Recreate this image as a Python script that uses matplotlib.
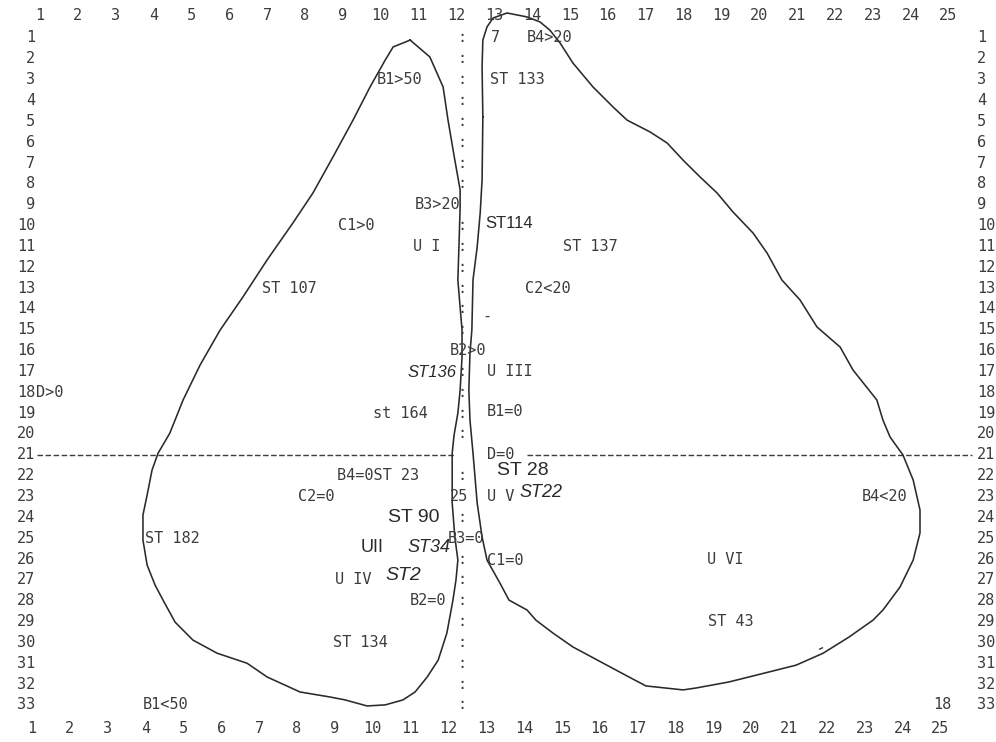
import matplotlib
matplotlib.use("Agg")
import matplotlib.pyplot as plt
import numpy as np

# grid: columns 1..25, rows 1..33 (row 1 at the top)
COLS = list(range(1, 26))
ROWS = list(range(1, 34))

# left lobe outline (column, row), traced clockwise from the top
LEFT_X = [10.78, 11.30, 11.65, 11.78, 11.96, 12.10, 12.10, 12.07, 12.04, 12.15,
          12.15, 12.10, 12.04, 11.94, 11.89, 11.89, 11.89, 11.96, 12.04, 11.99,
          11.91, 11.75, 11.52, 11.23, 10.91, 10.59, 10.12, 9.64, 9.06, 8.66,
          7.87, 7.00, 6.47, 5.68, 5.04, 4.57, 4.25, 4.04, 3.83, 3.72,
          3.72, 3.83, 3.96, 4.12, 4.43, 4.78, 5.23, 5.76, 6.36, 7.00,
          7.68, 8.21, 8.74, 9.27, 9.72, 10.12, 10.33, 10.78]
LEFT_Y = [1.10, 1.91, 3.35, 4.94, 6.86, 8.29, 9.11, 10.93, 12.61, 15.01,
          16.31, 17.89, 19.00, 20.05, 20.92, 22.21, 23.31, 24.94, 26.05, 27.01,
          27.97, 29.55, 30.85, 31.66, 32.38, 32.76, 33.00, 33.05, 32.76, 32.62,
          32.38, 31.66, 31.00, 30.52, 29.89, 29.03, 27.97, 27.25, 26.29, 25.09,
          23.89, 22.93, 21.73, 20.92, 19.96, 18.37, 16.69, 15.01, 13.43, 11.65,
          9.88, 8.44, 6.71, 4.94, 3.35, 2.06, 1.43, 1.10]

# right lobe outline (column, row)
RIGHT_X = [12.70, 12.68, 12.70, 12.81, 12.97, 13.34, 13.87, 14.21, 14.47, 14.74,
           15.08, 15.61, 16.14, 16.51, 17.12, 17.57, 17.99, 18.44, 18.89, 19.31,
           19.84, 20.21, 20.60, 21.08, 21.53, 22.14, 22.48, 23.11, 23.27, 23.46,
           23.80, 24.07, 24.25, 24.25, 24.07, 23.72, 23.27, 23.01, 22.37, 21.69,
           20.98, 20.26, 19.20, 18.33, 17.99, 17.01, 16.56, 16.22, 15.08, 14.55,
           14.10, 13.87, 13.39, 13.15, 12.81, 12.68, 12.55, 12.44, 12.36, 12.33,
           12.36, 12.41, 12.44, 12.55, 12.63, 12.68, 12.70]
RIGHT_Y = [4.79, 2.39, 1.10, 0.47, 0.04, -0.20, -0.01, 0.23, 0.62, 1.24,
           2.20, 3.35, 4.31, 4.94, 5.51, 6.04, 6.86, 7.67, 8.44, 9.35,
           10.36, 11.32, 12.61, 13.57, 14.87, 15.83, 16.93, 18.37, 19.33, 20.15,
           21.01, 22.21, 23.65, 24.75, 26.05, 27.35, 28.45, 28.93, 29.75, 30.52,
           31.09, 31.42, 31.90, 32.19, 32.28, 32.09, 31.66, 31.33, 30.22, 29.55,
           28.93, 28.45, 27.97, 27.15, 26.05, 24.94, 23.31, 20.92, 19.33, 17.89,
           16.12, 15.01, 12.61, 11.03, 9.40, 7.81, 4.79]

# printed labels: text, column, row
PRINT_TEXT = ["7", "B4>20", "B1>50", "ST 133", "B3>20", "C1>0", "U I", "ST 137",
              "ST 107", "C2<20", "-", "B2>0", "U III", "st 164", "B1=0", "D=0",
              "B4=0ST 23", "C2=0", "25", "U V", "B4<20", "ST 182", "B3=0",
              "C1=0", "U VI", "U IV", "B2=0", "ST 43", "ST 134", "B1<50", "18",
              "D>0"]
PRINT_X = [12.92, 13.87, 9.90, 12.89, 10.91, 8.87, 10.85, 14.82,
           6.87, 13.81, 12.68, 11.83, 12.81, 9.80, 12.81, 12.81,
           8.85, 7.82, 11.83, 12.81, 22.72, 3.77, 11.78,
           12.81, 18.62, 8.79, 10.78, 18.65, 8.74, 3.72, 24.59,
           0.90]
PRINT_Y = [1.0, 1.0, 3.0, 3.0, 9.0, 10.0, 11.0, 11.0,
           13.0, 13.0, 14.34, 16.0, 17.0, 19.0, 18.9, 21.0,
           22.0, 23.0, 23.0, 23.0, 23.0, 25.0, 25.0,
           26.05, 26.0, 27.0, 28.0, 29.0, 30.0, 33.0, 33.0,
           18.0]

# handwritten labels: text, column, row
HAND_TEXT = ["ST114", "ST136", "ST 28", "ST22", "ST 90", "UII", "ST34", "ST2"]
HAND_X = [12.76, 10.72, 13.07, 13.68, 10.19, 9.48, 10.72, 10.12]
HAND_Y = [9.9, 17.07, 21.73, 22.8, 24.0, 25.47, 25.47, 26.77]
HAND_SIZE = [12, 12, 14, 13, 14, 13, 13, 14]
HAND_ITALIC = [False, True, False, True, False, False, True, True]

# rows of column 12 without a printed colon
COLON_SKIP = [9, 16, 21, 23, 25]

INK = "#2a2a2a"
GRAY = "#3c3c3c"
MONO = "DejaVu Sans Mono"

fig = plt.figure(figsize=(9.96, 7.42), dpi=100)
ax = fig.add_axes([0, 0, 1, 1])
ax.set_xlim(-0.057, 26.258)
ax.set_ylim(34.78, -0.823)
ax.axis("off")

# axis labels on four sides
for c in COLS:
    ax.text(c, -0.10, str(c), ha="center", va="center", family=MONO,
            fontsize=11, color=GRAY)
    ax.text(c - 0.21, 34.11, str(c), ha="center", va="center", family=MONO,
            fontsize=11, color=GRAY)
for r in ROWS:
    ax.text(0.87, r, str(r), ha="right", va="center", family=MONO,
            fontsize=11, color=GRAY)
    ax.text(25.76, r, str(r), ha="left", va="center", family=MONO,
            fontsize=11, color=GRAY)

# dotted separator at column 12
for r in ROWS:
    if r not in COLON_SKIP:
        ax.text(12.15, r, ":", ha="center", va="center", family=MONO,
                fontsize=11, color=GRAY)

# dashed separator at row 21
ax.plot([0.92, 11.96], [21, 21], color=GRAY, lw=1.0, ls=(0, (4, 1.8)))
ax.plot([13.87, 25.62], [21, 21], color=GRAY, lw=1.0, ls=(0, (4, 1.8)))

# the two lobes
ax.plot(LEFT_X, LEFT_Y, color=INK, lw=1.15, solid_joinstyle="round")
ax.plot(RIGHT_X, RIGHT_Y, color=INK, lw=1.15, solid_joinstyle="round")

for t, x, y in zip(PRINT_TEXT, PRINT_X, PRINT_Y):
    ax.text(x, y, t, ha="left", va="center", family=MONO, fontsize=11,
            color=GRAY)

for t, x, y, s, it in zip(HAND_TEXT, HAND_X, HAND_Y, HAND_SIZE, HAND_ITALIC):
    ax.text(x, y, t, ha="left", va="center", family="Liberation Sans",
            fontsize=s, style="italic" if it else "normal", color=INK)

# stray pen stroke
ax.text(21.61, 30.27, "-", ha="center", va="center", family="DejaVu Sans",
        fontsize=12, rotation=25, color=INK)

fig.savefig("out.png", dpi=100)
